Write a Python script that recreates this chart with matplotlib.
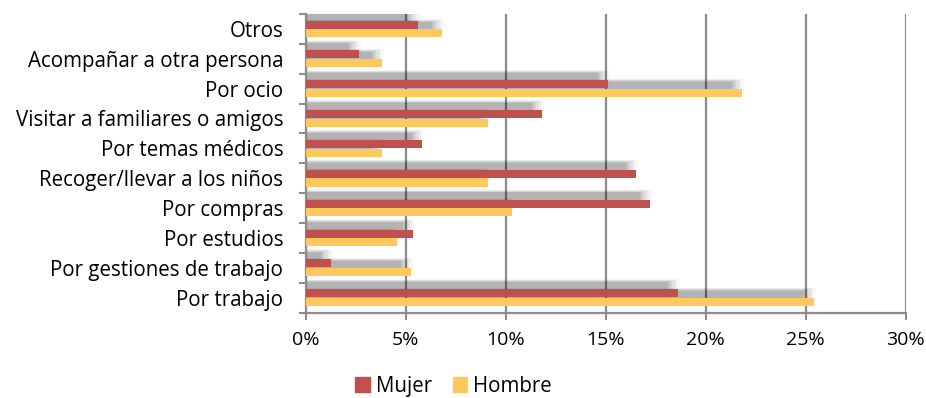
import numpy as np
import matplotlib.pyplot as plt
from matplotlib.ticker import MultipleLocator, FuncFormatter
from matplotlib.patches import Patch

# categories from bottom to top
categorias = ['Por trabajo', 'Por gestiones de trabajo', 'Por estudios', 'Por compras',
              'Recoger/llevar a los niños', 'Por temas médicos',
              'Visitar a familiares o amigos', 'Por ocio',
              'Acompañar a otra persona', 'Otros']
mujer = [18.6, 1.25, 5.35, 17.2, 16.5, 5.8, 11.8, 15.1, 2.65, 5.6]
hombre = [25.4, 5.25, 4.55, 10.3, 9.1, 3.8, 9.1, 21.8, 3.8, 6.8]

plt.rcParams['font.family'] = ['Open Sans', 'DejaVu Sans']

rojo = '#C0504D'
amarillo = '#FFC95E'
gris = '#8C8C8C'
fs = 14.8

fig = plt.figure(figsize=(9.26, 3.98), dpi=100)
ax = fig.add_axes([305.5 / 926, 1 - 312.5 / 398, 600 / 926, 298.5 / 398])

y = np.arange(len(categorias))
h = 0.27
off = 0.145

# soft shadow behind each pair of bars (shifted up and a bit left)
for k, a in enumerate([0.03, 0.04, 0.05, 0.06, 0.07, 0.08]):
    grow = 0.2 - k * 0.04
    for vals, yy in [(mujer, y + off), (hombre, y - off)]:
        w = np.array(vals) - 0.5 + grow * 3
        ax.barh(yy + h * 0.9, w, height=h + grow, left=0, color='black',
                alpha=a, linewidth=0, zorder=2)

ax.barh(y + off, mujer, height=h, color=rojo, zorder=3, linewidth=0)
ax.barh(y - off, hombre, height=h, color=amarillo, zorder=3, linewidth=0)

ax.set_xlim(0, 30)
ax.set_ylim(-0.5, len(categorias) - 0.5)

ax.xaxis.set_major_locator(MultipleLocator(5))
ax.xaxis.set_major_formatter(FuncFormatter(lambda v, p: '%d%%' % v))
ax.grid(axis='x', color=gris, linewidth=1.6, zorder=1)
ax.set_axisbelow(True)

ax.set_yticks(y)
ax.set_yticklabels(categorias)
ax.set_yticks(np.arange(-0.5, len(categorias)), minor=True)
ax.tick_params(axis='y', which='major', length=0, pad=16, labelsize=fs)
ax.tick_params(axis='y', which='minor', length=5, width=1.5, color=gris)
ax.tick_params(axis='x', which='major', length=5, width=1.5, color=gris,
               labelsize=14, pad=8)

for s in ['top', 'right']:
    ax.spines[s].set_visible(False)
for s in ['left', 'bottom']:
    ax.spines[s].set_color(gris)
    ax.spines[s].set_linewidth(1.6)

handles = [Patch(color=rojo, label='Mujer'), Patch(color=amarillo, label='Hombre')]
fig.legend(handles=handles, loc='center', bbox_to_anchor=(0.49, 0.03), ncol=2,
           frameon=False, fontsize=fs, handlelength=0.7, handleheight=0.7,
           handletextpad=0.3, columnspacing=1.0, borderpad=0.1)

fig.savefig('out.png', dpi=100)
